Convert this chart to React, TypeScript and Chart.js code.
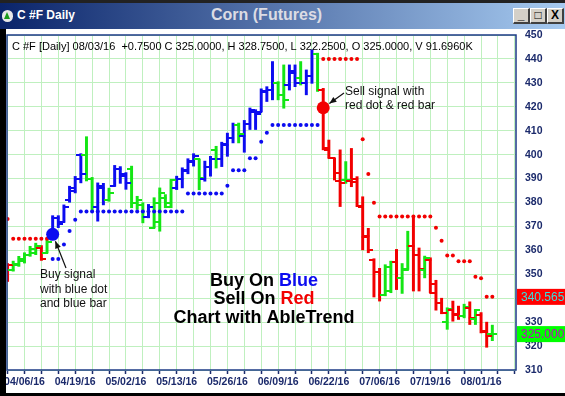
import React, { useEffect, useRef } from "react";
import { Chart, registerables } from "chart.js";

Chart.register(...registerables);

// ---------------- data ----------------
const dates: string[] = [
  "04/01/16","04/04/16","04/05/16","04/06/16","04/07/16","04/08/16","04/11/16","04/12/16","04/13/16","04/14/16",
  "04/15/16","04/18/16","04/19/16","04/20/16","04/21/16","04/22/16","04/25/16","04/26/16","04/27/16","04/28/16",
  "04/29/16","05/02/16","05/03/16","05/04/16","05/05/16","05/06/16","05/09/16","05/10/16","05/11/16","05/12/16",
  "05/13/16","05/16/16","05/17/16","05/18/16","05/19/16","05/20/16","05/23/16","05/24/16","05/25/16","05/26/16",
  "05/27/16","05/31/16","06/01/16","06/02/16","06/03/16","06/06/16","06/07/16","06/08/16","06/09/16","06/10/16",
  "06/13/16","06/14/16","06/15/16","06/16/16","06/17/16","06/20/16","06/21/16","06/22/16","06/23/16","06/24/16",
  "06/27/16","06/28/16","06/29/16","06/30/16","07/01/16","07/05/16","07/06/16","07/07/16","07/08/16","07/11/16",
  "07/12/16","07/13/16","07/14/16","07/15/16","07/18/16","07/19/16","07/20/16","07/21/16","07/22/16","07/25/16",
  "07/26/16","07/27/16","07/28/16","07/29/16","08/01/16","08/02/16","08/03/16",
];

const dateTickLabels: string[] = [
  "04/06/16","04/19/16","05/02/16","05/13/16","05/26/16","06/09/16","06/22/16","07/06/16","07/19/16","08/01/16",
];

const opens: number[] = [
  349,352,354,355.5,358,359,361,359,367,373.5,
  372,381,385,400,400,390,378,386,381,387,
  394,391,394,380,379,374,369.5,372,382,378,
  386,390,393,397,398,390,395,402,398,404,
  407,412.5,408,413,418,418,426,427,430,425,
  429,434,432,430,433,442,427,402,398.5,389,
  389.4,389,390,378,366,356,351,341.5,343,355,
  348.5,352,362,358,352,356,346,338,330,335,
  333,332.5,336,331.5,333,326,325,
];

const highs: number[] = [
  354.5,355.5,357.5,359,361.7,363,362,364.5,374.5,374.5,
  379,386.8,390.9,400.4,407.5,390.5,388.2,388,386,395.5,
  395,392.5,395.2,382.6,379.9,379.2,382,386.1,383.3,389.6,
  391,394.5,398.3,400.4,398,397.3,399.3,403.5,405.2,409,
  413.2,413.2,414.3,419.5,418.8,427.5,428.4,438.9,430.5,437.5,
  437.5,437.5,438.9,435.4,443.8,442.4,427.7,406.1,398.5,402,
  397.1,402.6,390.8,382.4,369.2,356.5,352.5,354,355.5,360.4,
  354.5,368,373.6,361,357.6,356.9,347.5,340,336,338.8,
  336.7,337.5,338.5,335.3,334,330,328.75,
];

const lows: number[] = [
  347,351.3,353.3,354.7,357.5,358.2,355.8,358.9,366,369.5,
  371.7,380.1,384,388.2,389,376.3,372.2,379,380.5,386.8,
  388,385.5,377.8,377.1,371.5,373.6,369.4,368,377.8,377.8,
  385.4,386.1,392,395.2,385.3,388.9,391,394.4,395,399.3,
  404.9,404.9,401,410.5,410.5,418,422.2,422.9,422.9,419.4,
  427,428.4,429.1,425,429.8,426.4,402,398.5,389.4,378.3,
  388,386.6,378.3,360.2,359,340.5,338.8,341,342.3,343.6,
  342,352,343,343,348.5,342.3,335,333.5,327,330.4,
  331.1,331.8,329,329,325.5,319.5,322.25,
];

const closes: number[] = [
  354,354.5,356.5,358,360.5,362,356.5,363.5,373.5,371,
  378,386,390,392,390,378,387,381,384,394,
  392,388,380,381,374,378,380,384,380,389.5,
  390,393.5,397.5,399.5,390.3,395,398,398,404.5,407,
  412.5,408.5,413,418.5,417,426.5,427,430,425,423,
  435,430,430,433,442,427,402.6,398.8,392.5,388,
  389.4,388.7,378.7,365.7,360.2,351,341.5,353,355,348.5,
  352.4,362,358,352.4,357,342.3,338,334,335.3,333.2,
  332.5,336.4,331.8,335,326.2,324.25,325,
];

// bar colour code: r = red (sell), b = blue (buy), g = green (neutral)
const barTrend: string[] = [
  "r","g","g","g","g","g","r","g","b","b",
  "b","b","b","b","g","g","b","b","g","b",
  "b","b","g","g","g","b","g","g","g","g",
  "b","b","b","b","g","b","b","g","b","b",
  "b","g","b","b","b","b","b","b","g","g",
  "b","b","g","b","b","g","r","r","r","r",
  "g","r","r","r","r","r","r","g","g","r",
  "g","g","r","r","g","r","r","r","g","r",
  "r","g","r","g","r","r","g",
];

// AbleTrend stop dots
const stops: number[] = [
  373.1,364.9,364.9,364.9,364.9,364.9,364.9,364.9,356.4,356.4,
  362.4,368.1,372.8,376.2,376.2,376.2,376.2,376.2,376.2,376.2,
  376.2,376.2,376.2,376.2,376.2,376.2,376.2,376.2,376.2,376.2,
  376.2,376.2,383.8,383.8,383.8,383.8,383.8,383.8,383.8,387,
  393.5,393.5,393.5,398.5,398.5,405.4,409.2,412.4,412.4,412.4,
  412.4,412.4,412.4,412.4,412.4,412.4,440,440,440,440,
  440,440,440,406.4,391.9,379.9,374.1,374.1,374.1,374.1,
  374.1,374.1,374.1,374.1,374.1,374.1,369.5,364,357.8,357.8,
  355.5,355.5,355.5,349,348.3,340.6,340.5651,
];

const signalIdx: number[] = [8, 56];
const signalVals: number[] = [366.7, 419.6];
const signalTrend: string[] = ["b", "r"];
const volumeText = "91.6960K";

// ---------------- styling ----------------
const RED = "#f20000";
const GREEN = "#14e614";
const BLUE = "#0c0cf0";
const NAVY = "#1b2a6b";
const GRID = "#bff0bf";
const FONT = "'Liberation Sans', Arial, sans-serif";
const trendColor: Record<string, string> = { r: RED, g: GREEN, b: BLUE };

function makeTick(color: string, side: "L" | "R"): HTMLCanvasElement {
  const c = document.createElement("canvas");
  c.width = 10;
  c.height = 2;
  const ctx = c.getContext("2d")!;
  ctx.fillStyle = color;
  if (side === "L") ctx.fillRect(0, 0, 6, 2);
  else ctx.fillRect(4, 0, 6, 2);
  return c;
}

function arrow(ctx: CanvasRenderingContext2D, x1: number, y1: number, x2: number, y2: number) {
  ctx.beginPath();
  ctx.moveTo(x1, y1);
  ctx.lineTo(x2, y2);
  ctx.stroke();
  const a = Math.atan2(y2 - y1, x2 - x1);
  const L = 7, W = 3;
  ctx.beginPath();
  ctx.moveTo(x2, y2);
  ctx.lineTo(x2 - L * Math.cos(a) + W * Math.sin(a), y2 - L * Math.sin(a) - W * Math.cos(a));
  ctx.lineTo(x2 - L * Math.cos(a) - W * Math.sin(a), y2 - L * Math.sin(a) + W * Math.cos(a));
  ctx.closePath();
  ctx.fill();
}

export default function App() {
  const ref = useRef<HTMLCanvasElement>(null);

  useEffect(() => {
    const canvas = ref.current!;
    const tickImgs: Record<string, { L: HTMLCanvasElement; R: HTMLCanvasElement }> = {
      r: { L: makeTick(RED, "L"), R: makeTick(RED, "R") },
      g: { L: makeTick(GREEN, "L"), R: makeTick(GREEN, "R") },
      b: { L: makeTick(BLUE, "L"), R: makeTick(BLUE, "R") },
    };
    const idx = dates.map((_, i) => i);
    const last = dates.length - 1;
    const gridTicks: number[] = [];
    for (let v = 0; v <= 90; v += 3) gridTicks.push(v);

    const annotations = {
      id: "annotations",
      afterDraw(chart: any) {
        const { ctx, chartArea: a, scales } = chart;
        const xs = scales.x, ys = scales.y;
        ctx.save();
        // plot frame
        ctx.strokeStyle = "#1d3a86";
        ctx.lineWidth = 1.5;
        ctx.strokeRect(a.left, a.top, a.right - a.left, a.bottom - a.top);

        // header
        const chg = closes[last] - closes[last - 1];
        const header = `C #F [Daily] ${dates[last]}  ${chg >= 0 ? "+" : ""}${chg.toFixed(4)} C ${closes[last].toFixed(4)}, H ${highs[last].toFixed(4)}, L ${lows[last].toFixed(4)}, O ${opens[last].toFixed(4)}, V ${volumeText}`;
        ctx.fillStyle = "#000";
        ctx.font = `11px ${FONT}`;
        ctx.textAlign = "left";
        ctx.textBaseline = "middle";
        ctx.fillText(header, a.left + 5, a.top + 12);

        // buy / sell annotations
        ctx.fillStyle = "#111";
        ctx.strokeStyle = "#111";
        ctx.lineWidth = 1.2;
        ctx.font = `12px ${FONT}`;
        ["Buy signal", "with blue dot", "and blue bar"].forEach((t, k) => ctx.fillText(t, 40, 275 + k * 14.5));
        ["Sell signal with", "red dot & red bar"].forEach((t, k) => ctx.fillText(t, 345, 92 + k * 13.5));
        const arrowTo = (sx: number, sy: number, i: number) => {
          const cx = xs.getPixelForValue(signalIdx[i]);
          const cy = ys.getPixelForValue(signalVals[i]);
          const d = Math.hypot(sx - cx, sy - cy);
          const r = 7.5;
          arrow(ctx, sx, sy, cx + ((sx - cx) / d) * r, cy + ((sy - cy) / d) * r);
        };
        arrowTo(66, 268, 0);
        arrowTo(344, 93, 1);

        // centre text
        ctx.font = `bold 18px ${FONT}`;
        const drawParts = (parts: [string, string][], cx: number, cy: number) => {
          const w = parts.reduce((s, p) => s + ctx.measureText(p[0]).width, 0);
          let x0 = cx - w / 2;
          ctx.textAlign = "left";
          parts.forEach(([t, c]) => {
            ctx.fillStyle = c;
            ctx.fillText(t, x0, cy);
            x0 += ctx.measureText(t).width;
          });
        };
        drawParts([["Buy On ", "#000"], ["Blue", BLUE]], 264, 281);
        drawParts([["Sell On ", "#000"], ["Red", RED]], 264, 299);
        drawParts([["Chart with AbleTrend", "#000"]], 264, 318);

        // last values on the price axis
        ctx.font = `12px ${FONT}`;
        const box = (v: number, bg: string, fg: string) => {
          const py = ys.getPixelForValue(v);
          ctx.fillStyle = bg;
          ctx.fillRect(a.right + 1, py - 8, chart.width - a.right, 16);
          ctx.fillStyle = fg;
          ctx.textAlign = "left";
          ctx.fillText(v.toFixed(4), a.right + 5, py + 0.5);
        };
        box(stops[last], "#ff0000", "#33e0e0");
        box(closes[last], "#00ff00", "#c000c0");
        ctx.restore();
      },
    };

    const chart = new Chart(canvas, {
      type: "bar",
      data: {
        datasets: [
          {
            type: "scatter",
            data: signalIdx.map((i, k) => ({ x: i, y: signalVals[k] })),
            pointRadius: 6.5,
            pointBorderWidth: 0,
            pointBackgroundColor: signalTrend.map((t) => trendColor[t]),
            order: 0,
          } as any,
          {
            type: "scatter",
            data: idx.map((i) => ({ x: i, y: stops[i] })),
            pointRadius: 2,
            pointBorderWidth: 0,
            pointBackgroundColor: idx.map((i) =>
              i < signalIdx[0] || i >= signalIdx[1] ? RED : BLUE
            ),
            order: 1,
          } as any,
          {
            type: "scatter",
            data: idx.map((i) => ({ x: i, y: opens[i] })),
            pointRadius: 3,
            pointStyle: idx.map((i) => tickImgs[barTrend[i]].L),
            order: 2,
          } as any,
          {
            type: "scatter",
            data: idx.map((i) => ({ x: i, y: closes[i] })),
            pointRadius: 3,
            pointStyle: idx.map((i) => tickImgs[barTrend[i]].R),
            order: 2,
          } as any,
          {
            type: "bar",
            data: idx.map((i) => ({ x: i, y: [lows[i], highs[i]] })),
            backgroundColor: idx.map((i) => trendColor[barTrend[i]]),
            borderWidth: 0,
            barThickness: 2.3,
            grouped: false,
            order: 3,
          } as any,
        ],
      },
      options: {
        responsive: false,
        animation: false,
        events: [],
        layout: { padding: { left: 7, top: 35, right: 0, bottom: 0 } },
        plugins: { legend: { display: false }, tooltip: { enabled: false } },
        scales: {
          x: {
            type: "linear",
            min: -0.1,
            max: 90.2,
            offset: false,
            grid: {
              offset: false,
              color: GRID,
              lineWidth: 1,
              drawTicks: true,
              tickLength: 4,
              tickColor: NAVY,
              tickWidth: 1.5,
            },
            border: { display: false },
            afterBuildTicks: (s: any) => {
              s.ticks = gridTicks.map((v) => ({ value: v }));
            },
            afterFit: (s: any) => {
              s.height = 26;
            },
            ticks: {
              autoSkip: false,
              maxRotation: 0,
              minRotation: 0,
              padding: 2,
              color: NAVY,
              font: { family: FONT, size: 10.5, weight: "bold" },
              callback: (v: any) => {
                const d = dates[Math.round(Number(v))];
                return d && dateTickLabels.includes(d) ? d : "";
              },
            },
          },
          y: {
            position: "right",
            min: 310,
            max: 450,
            grid: { color: GRID, lineWidth: 1, drawTicks: false },
            border: { display: false },
            afterFit: (s: any) => {
              s.width = 49;
            },
            ticks: {
              stepSize: 10,
              padding: 9,
              color: NAVY,
              font: { family: FONT, size: 10.5, weight: "bold" },
            },
          },
        },
      } as any,
      plugins: [annotations],
    });
    return () => chart.destroy();
  }, []);

  const btn = (left: number, glyph: string) => (
    <div
      style={{
        position: "absolute",
        left,
        top: 8,
        width: 14,
        height: 13,
        background: "#d4d0c8",
        borderTop: "1px solid #fff",
        borderLeft: "1px solid #fff",
        borderBottom: "2px solid #404040",
        borderRight: "2px solid #404040",
        font: `bold 12px ${FONT}`,
        color: "#000",
        textAlign: "center",
        lineHeight: "13px",
      }}
    >
      {glyph}
    </div>
  );

  return (
    <div
      style={{
        position: "fixed",
        left: 0,
        top: 0,
        width: 565,
        height: 396,
        background: "#fff",
        overflow: "hidden",
      }}
    >
      <canvas
        ref={ref}
        width={565}
        height={396}
        style={{ position: "absolute", left: 0, top: 0, width: 565, height: 396 }}
      />
      <div style={{ position: "absolute", left: 0, top: 0, width: 565, height: 3, background: "#222" }} />
      <div
        style={{
          position: "absolute",
          left: 0,
          top: 3,
          width: 565,
          height: 26,
          background: "linear-gradient(to right, #0a246a, #a6caf0)",
        }}
      >
        <div
          style={{
            position: "absolute",
            left: 2,
            top: 7,
            width: 11,
            height: 12,
            borderRadius: 6,
            background: "#e8e8e8",
          }}
        >
          <div
            style={{
              position: "absolute",
              left: 2,
              top: 2,
              width: 0,
              height: 0,
              borderLeft: "3.5px solid transparent",
              borderRight: "3.5px solid transparent",
              borderBottom: "7px solid #1a9a1a",
            }}
          />
        </div>
        <div
          style={{
            position: "absolute",
            left: 17,
            top: 5,
            color: "#fff",
            font: `bold 12px ${FONT}`,
            whiteSpace: "nowrap",
          }}
        >
          C #F Daily
        </div>
        <div
          style={{
            position: "absolute",
            left: 211,
            top: 3,
            color: "#dcdce4",
            font: `bold 16px ${FONT}`,
            whiteSpace: "nowrap",
          }}
        >
          Corn (Futures)
        </div>
      </div>
      {btn(513, "_")}
      {btn(530, "□")}
      {btn(547, "X")}
      <div style={{ position: "absolute", left: 0, top: 29, width: 6, height: 367, background: "#000" }} />
      <div style={{ position: "absolute", left: 0, top: 393, width: 565, height: 3, background: "#000" }} />
    </div>
  );
}
